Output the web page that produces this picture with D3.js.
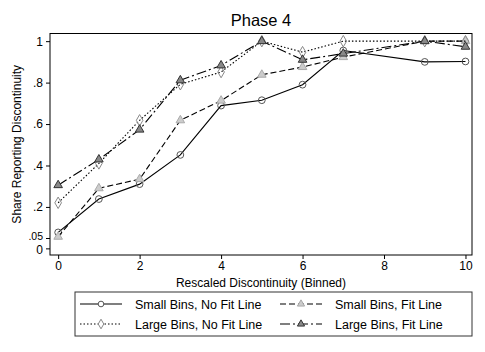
<!DOCTYPE html>
<html>
<head>
<meta charset="utf-8">
<script src="https://cdn.jsdelivr.net/npm/d3@7"></script>
<style>
  body { margin: 0; background: #fff; }
  text { font-family: "Liberation Sans", Arial, sans-serif; fill: #000; }
</style>
</head>
<body>
<div class="canvas"></div>
<script>
// binned x positions (no bin 8 in the data)
const bins = [0, 1, 2, 3, 4, 5, 6, 7, 9, 10]
const smallNoFit = [0.077, 0.238, 0.31, 0.451, 0.689, 0.715, 0.79, 0.955, 0.90, 0.902]
const smallFit = [0.056, 0.29, 0.334, 0.618, 0.713, 0.838, 0.875, 0.923, 1.0, 1.0]
const largeNoFit = [0.22, 0.41, 0.618, 0.792, 0.851, 1.0, 0.947, 1.0, 1.0, 1.0]
const largeFit = [0.305, 0.429, 0.573, 0.811, 0.883, 1.0, 0.91, 0.94, 1.0, 0.973]
const xTicks = [0, 2, 4, 6, 8, 10]
const yTicks = [0, 0.05, 0.2, 0.4, 0.6, 0.8, 1]
const seriesNames = ["Small Bins, No Fit Line", "Small Bins, Fit Line", "Large Bins, No Fit Line", "Large Bins, Fit Line"]

const W = 485, H = 352
const pLeft = 50, pRight = 472, pTop = 33.5, pBottom = 255

const svg = d3.select(".canvas").append("svg")
  .attr("width", W).attr("height", H)

const x = d3.scaleLinear().domain([-0.2, 10.16]).range([pLeft, pRight])
const y = d3.scaleLinear().domain([-0.032, 1.037]).range([pBottom, pTop])

// frame
svg.append("rect")
  .attr("x", pLeft).attr("y", pTop)
  .attr("width", pRight - pLeft).attr("height", pBottom - pTop)
  .attr("fill", "none").attr("stroke", "#000").attr("stroke-width", 1)

const fmt = d => d === 0 ? "0" : d === 1 ? "1" : d3.format(".2~f")(d).replace(/^0/, "")

const yAxis = svg.append("g")
  .attr("transform", `translate(${pLeft},0)`)
  .call(d3.axisLeft(y).tickValues(yTicks).tickSize(4).tickPadding(3).tickFormat(fmt))
yAxis.select(".domain").remove()
yAxis.selectAll("text").style("font-size", "12px")
// the .05 label sits right on top of 0, keep it a touch smaller and nudged up
yAxis.selectAll(".tick").filter(d => d === 0.05).select("text")
  .style("font-size", "10.5px").attr("dy", "0.1em")
yAxis.selectAll(".tick").filter(d => d === 0).select("text").attr("dy", "0.45em")

const xAxis = svg.append("g")
  .attr("transform", `translate(0,${pBottom})`)
  .call(d3.axisBottom(x).tickValues(xTicks).tickSize(4).tickPadding(2))
xAxis.select(".domain").remove()
xAxis.selectAll("text").style("font-size", "12px")

svg.append("text")
  .attr("x", (pLeft + pRight) / 2).attr("y", 287)
  .attr("text-anchor", "middle").style("font-size", "12px")
  .text("Rescaled Discontinuity (Binned)")

svg.append("text")
  .attr("transform", `translate(21,${(pTop + pBottom) / 2}) rotate(-90)`)
  .attr("text-anchor", "middle").style("font-size", "12px")
  .text("Share Reporting Discontinuity")

svg.append("text")
  .attr("x", 261).attr("y", 26)
  .attr("text-anchor", "middle").style("font-size", "16.5px")
  .text("Phase 4")

const styles = [
  { vals: smallNoFit, dash: null, shape: d3.symbolCircle, size: 36, stroke: "#555", fill: "none" },
  { vals: smallFit, dash: "6,3", shape: d3.symbolTriangle, size: 32, stroke: "#aaa", fill: "#ccc" },
  { vals: largeNoFit, dash: "1.5,2", shape: d3.symbolDiamond, size: 38, stroke: "#888", fill: "none" },
  { vals: largeFit, dash: "10,3,2,3", shape: d3.symbolTriangle, size: 32, stroke: "#333", fill: "#888" }
]

const line = d3.line().x(d => x(d[0])).y(d => y(d[1]))

styles.forEach(s => {
  const pts = bins.map((b, i) => [b, s.vals[i]])
  svg.append("path")
    .attr("d", line(pts))
    .attr("fill", "none").attr("stroke", "#000").attr("stroke-width", 1.1)
    .attr("stroke-dasharray", s.dash)
  svg.append("g").selectAll("path")
    .data(pts).enter().append("path")
    .attr("d", d3.symbol().type(s.shape).size(s.size))
    .attr("transform", d => `translate(${x(d[0])},${y(d[1])})`)
    .attr("fill", s.fill).attr("stroke", s.stroke).attr("stroke-width", 1)
})

// legend
const lg = svg.append("g")
lg.append("rect")
  .attr("x", 75).attr("y", 292).attr("width", 397).attr("height", 44)
  .attr("fill", "#fff").attr("stroke", "#333").attr("stroke-width", 1)

const cols = [80, 280], rows = [304, 324]
seriesNames.forEach((name, k) => {
  const s = styles[k]
  const cx = cols[k % 2], cy = rows[Math.floor(k / 2)]
  lg.append("line")
    .attr("x1", cx).attr("x2", cx + 42).attr("y1", cy).attr("y2", cy)
    .attr("stroke", "#000").attr("stroke-width", 1.1)
    .attr("stroke-dasharray", s.dash)
  lg.append("path")
    .attr("d", d3.symbol().type(s.shape).size(s.size * 0.7))
    .attr("transform", `translate(${cx + 21},${cy})`)
    .attr("fill", s.fill === "none" ? "#fff" : s.fill).attr("stroke", s.stroke)
  lg.append("text")
    .attr("x", cx + 55).attr("y", cy + 4.5)
    .style("font-size", "12.5px")
    .text(name)
})
</script>
</body>
</html>
